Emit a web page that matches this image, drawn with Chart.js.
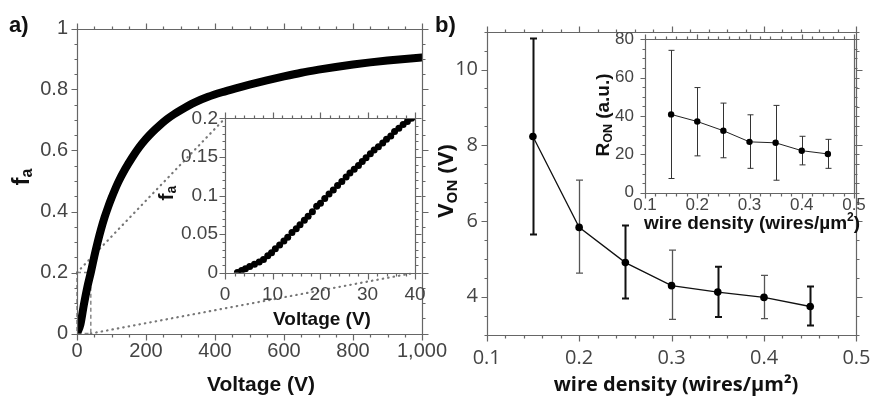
<!DOCTYPE html>
<html><head><meta charset="utf-8">
<script src="https://cdn.jsdelivr.net/npm/chart.js@4.4.1/dist/chart.umd.min.js"></script>
<style>
html,body{margin:0;padding:0;background:#fff;}
#wrap{position:relative;width:882px;height:397px;overflow:hidden;background:#fff;}
canvas{position:absolute;}
</style></head><body>
<div id="wrap">
<canvas id="cA" width="470" height="397" style="left:0px;top:0px"></canvas>
<canvas id="cB" width="452" height="397" style="left:430px;top:0px"></canvas>
<canvas id="cAin" width="290" height="240" style="left:150px;top:95px"></canvas>
<canvas id="cBin" width="302" height="222" style="left:580px;top:18px"></canvas>
</div>
<script>
// ---------- data (a) ----------
const aVoltage = [0,10,20,30,40,50,60,70,80,90,100,120,140,160,180,200,220,240,260,280,300,340,380,420,460,500,550,600,650,700,750,800,850,900,950,1000];
const aFa = [0,0.03,0.095,0.152,0.2,0.252,0.3,0.343,0.381,0.414,0.444,0.497,0.54,0.577,0.61,0.638,0.662,0.683,0.702,0.718,0.732,0.757,0.776,0.791,0.804,0.816,0.83,0.843,0.855,0.865,0.874,0.882,0.889,0.895,0.9,0.905];
const aXTicks = [0,200,400,600,800,1000];
const aXLabels = ['0','200','400','600','800','1,000'];
const aYTicks = [0,0.2,0.4,0.6,0.8,1];
const aYLabels = ['0','0.2','0.4','0.6','0.8','1'];

// inset (a)
const insetV = [2.6,3.5,4.3,5.2,6.2,7.2,8.1,9.0,9.8,10.6,11.5,12.4,13.2,14.1,15.0,15.8,16.7,17.5,18.4,19.3,20.1,21.0,21.9,22.8,23.7,24.6,25.5,26.3,27.2,28.1,28.9,29.7,30.6,31.4,32.3,33.2,34.0,34.9,35.7,36.6,37.5,38.4,39.3];
const insetFa = [0.0004,0.003,0.005,0.008,0.011,0.014,0.017,0.022,0.026,0.031,0.036,0.041,0.046,0.052,0.057,0.062,0.068,0.073,0.079,0.086,0.09,0.096,0.102,0.107,0.113,0.118,0.124,0.129,0.134,0.139,0.144,0.149,0.154,0.159,0.163,0.168,0.173,0.177,0.183,0.187,0.192,0.196,0.2];
const insetXTicks = [0,10,20,30,40];
const insetXLabels = ['0','10','20','30','40'];
const insetYTicks = [0,0.05,0.1,0.15,0.2];
const insetYLabels = ['0','0.05','0.1','0.15','0.2'];

// ---------- data (b) ----------
const bDensity = [0.15,0.2,0.25,0.3,0.35,0.4,0.45];
const bVon = [8.23,5.83,4.90,4.29,4.12,3.98,3.74];
const bVonLow = [5.64,4.62,3.95,3.40,3.46,3.42,3.24];
const bVonHigh = [10.82,7.08,5.88,5.23,4.79,4.56,4.27];
const bXTicks = [0.1,0.2,0.3,0.4,0.5];
const bXLabels = ['0.1','0.2','0.3','0.4','0.5'];
const bYTicks = [4,6,8,10];
const bYLabels = ['4','6','8','10'];

// inset (b)
const bRon = [40.8,37.1,32.3,26.5,26.0,21.9,20.2];
const bRonLow = [7.4,19.2,18.2,12.7,6.5,14.5,12.7];
const bRonHigh = [74.2,54.8,46.7,40.6,45.5,29.4,27.8];
const bInYTicks = [0,20,40,60,80];
const bInYLabels = ['0','20','40','60','80'];

// ---------- helpers ----------
function scaleCfg(min, max, ticks, labels, font, color, padding, fit, isX) {
  return {
    type: 'linear', min, max,
    grid: { display: false, drawTicks: false },
    border: { display: false },
    afterBuildTicks: s => { s.ticks = ticks.map(v => ({ value: v })); },
    afterFit: s => { if (isX) s.height = fit; else s.width = fit; },
    ticks: {
      autoSkip: false, maxRotation: 0, minRotation: 0, padding,
      font, color,
      callback: v => { const i = ticks.findIndex(t => Math.abs(t - v) < 1e-9); return i >= 0 ? labels[i] : ''; }
    }
  };
}

function frameTicks(cfg) {
  return { id: 'frameTicks', afterDraw(chart) {
    const { ctx, chartArea: ca, scales: { x, y } } = chart;
    ctx.save();
    ctx.strokeStyle = cfg.color; ctx.lineWidth = cfg.width;
    const L = Math.round(ca.left) + 0.5, R = Math.round(ca.right) + 0.5, T = Math.round(ca.top) + 0.5, B = Math.round(ca.bottom) + 0.5;
    ctx.beginPath();
    ctx.rect(L, T, R - L, B - T);
    const isMajor = (v, majors) => majors.some(m => Math.abs(m - v) < 1e-9);
    const n = Math.round((x.max - x.min) / cfg.xMinor);
    for (let i = 0; i <= n; i++) {
      const v = x.min + i * cfg.xMinor;
      const len = isMajor(v, cfg.xMajor) ? cfg.major : cfg.minor;
      const p = Math.round(x.getPixelForValue(v)) + 0.5;
      ctx.moveTo(p, B); ctx.lineTo(p, B + len);
      ctx.moveTo(p, T); ctx.lineTo(p, T - len);
    }
    const m = Math.round((y.max - y.min) / cfg.yMinor);
    for (let i = 0; i <= m; i++) {
      const v = y.min + i * cfg.yMinor;
      const len = isMajor(v, cfg.yMajor) ? cfg.major : cfg.minor;
      const p = Math.round(y.getPixelForValue(v)) + 0.5;
      ctx.moveTo(L, p); ctx.lineTo(L - len, p);
      ctx.moveTo(R, p); ctx.lineTo(R + len, p);
    }
    ctx.stroke();
    ctx.restore();
  }};
}

function titles(items) {
  return { id: 'titles', afterDraw(chart) {
    const ctx = chart.ctx;
    items.forEach(it => {
      ctx.save();
      ctx.translate(it.x, it.y);
      if (it.rot) ctx.rotate(it.rot);
      let w = 0;
      const ws = it.parts.map(p => { ctx.font = p.font; const mw = ctx.measureText(p.text).width; w += mw; return mw; });
      let cx = it.align === 'left' ? 0 : -w / 2;
      ctx.fillStyle = it.color || '#111';
      ctx.textBaseline = 'middle'; ctx.textAlign = 'left';
      it.parts.forEach((p, i) => { ctx.font = p.font; ctx.fillText(p.text, cx, p.dy || 0); cx += ws[i]; });
      ctx.restore();
    });
  }};
}

function errorBars(low, high, cfg) {
  return { id: 'errorBars', beforeDatasetsDraw(chart) {
    const { ctx, scales: { x, y } } = chart;
    const pts = chart.data.datasets[0].data;
    ctx.save();
    pts.forEach((pt, i) => {
      const px = Math.round(x.getPixelForValue(pt.x)) + 0.5;
      const yl = y.getPixelForValue(low[i]), yh = y.getPixelForValue(high[i]);
      ctx.strokeStyle = cfg.color(i); ctx.lineWidth = cfg.width(i);
      ctx.beginPath();
      ctx.moveTo(px, yl); ctx.lineTo(px, yh);
      ctx.moveTo(px - cfg.cap, yl); ctx.lineTo(px + cfg.cap, yl);
      ctx.moveTo(px - cfg.cap, yh); ctx.lineTo(px + cfg.cap, yh);
      ctx.stroke();
    });
    ctx.restore();
  }};
}

const whiteArea = { id: 'whiteArea', beforeDraw(chart) {
  const { ctx, chartArea: ca } = chart;
  ctx.save(); ctx.fillStyle = '#fff'; ctx.fillRect(ca.left, ca.top, ca.right - ca.left, ca.bottom - ca.top); ctx.restore();
}};

const LS = 'Liberation Sans, Arial, sans-serif';
const OS = 'Open Sans, Noto Sans, sans-serif';
const baseOpts = { responsive: false, animation: false, devicePixelRatio: 1, events: [],
  plugins: { legend: { display: false }, tooltip: { enabled: false } } };

// ---------- inset (a) ----------
const insetA = new Chart(document.getElementById('cAin'), {
  type: 'line',
  data: { datasets: [{ data: insetV.map((v, i) => ({ x: v, y: insetFa[i] })), showLine: false,
    pointRadius: 3.5, pointBackgroundColor: '#000', pointBorderWidth: 0 }] },
  options: Object.assign({}, baseOpts, {
    layout: { padding: { left: 0, right: 25, top: 23.3, bottom: 0 } },
    scales: {
      x: scaleCfg(0, 40, insetXTicks, insetXLabels, { family: LS, size: 19 }, '#444', 11, 62.3, true),
      y: scaleCfg(0, 0.2, insetYTicks, insetYLabels, { family: LS, size: 19 }, '#444', 7, 75, false)
    }
  }),
  plugins: [whiteArea,
    frameTicks({ color: '#666', width: 1.2, major: 6, minor: 3, xMinor: 2, xMajor: insetXTicks, yMinor: 0.01, yMajor: insetYTicks }),
    titles([
      { x: 172, y: 225, parts: [{ text: 'Voltage (V)', font: 'bold 19px ' + LS }] },
      { x: 17.5, y: 98, rot: -Math.PI / 2, parts: [{ text: 'f', font: 'bold 21px ' + LS }, { text: 'a', font: 'bold 14px ' + LS, dy: 5 }] }
    ])]
});

// ---------- main (a) ----------
const zoomLinks = { id: 'zoomLinks', beforeDatasetsDraw(chart) {
  const { ctx, scales: { x, y } } = chart;
  const ca = insetA.chartArea;
  const ox = insetA.canvas.offsetLeft - chart.canvas.offsetLeft;
  const oy = insetA.canvas.offsetTop - chart.canvas.offsetTop;
  const x0 = x.getPixelForValue(insetA.scales.x.min), x1 = x.getPixelForValue(insetA.scales.x.max);
  const y0 = y.getPixelForValue(insetA.scales.y.min), y1 = y.getPixelForValue(insetA.scales.y.max);
  ctx.save();
  ctx.strokeStyle = '#888'; ctx.lineWidth = 1.5; ctx.setLineDash([4, 3]);
  ctx.strokeRect(x0, y1, x1 - x0, y0 - y1);
  ctx.setLineDash([0.5, 5]); ctx.lineCap = 'round'; ctx.lineWidth = 2.2; ctx.strokeStyle = '#777';
  ctx.beginPath();
  ctx.moveTo(x0, y1); ctx.lineTo(ox + ca.left, oy + ca.top);
  ctx.moveTo(x1, y0); ctx.lineTo(ox + ca.right, oy + ca.bottom);
  ctx.stroke();
  ctx.restore();
}};

new Chart(document.getElementById('cA'), {
  type: 'line',
  data: { datasets: [{ data: aVoltage.map((v, i) => ({ x: v, y: aFa[i] })), borderColor: '#000', borderWidth: 8,
    borderCapStyle: 'round', borderJoinStyle: 'round', cubicInterpolationMode: 'monotone', pointRadius: 0, fill: false }] },
  options: Object.assign({}, baseOpts, {
    layout: { padding: { left: 0, right: 48, top: 28.5, bottom: 0 } },
    scales: {
      x: scaleCfg(0, 1000, aXTicks, aXLabels, { family: LS, size: 20 }, '#444', 6, 63.5, true),
      y: scaleCfg(0, 1, aYTicks, aYLabels, { family: LS, size: 20 }, '#444', 9, 77, false)
    }
  }),
  plugins: [zoomLinks,
    frameTicks({ color: '#666', width: 1.2, major: 6, minor: 3, xMinor: 50, xMajor: aXTicks, yMinor: 0.05, yMajor: aYTicks }),
    titles([
      { x: 261, y: 385, parts: [{ text: 'Voltage (V)', font: 'bold 21px ' + LS }] },
      { x: 22, y: 177, rot: -Math.PI / 2, parts: [{ text: 'f', font: 'bold 24px ' + LS }, { text: 'a', font: 'bold 16px ' + LS, dy: 6 }] },
      { x: 9, y: 26, align: 'left', parts: [{ text: 'a)', font: 'bold 22px ' + LS }] }
    ])]
});

// ---------- main (b) ----------
new Chart(document.getElementById('cB'), {
  type: 'line',
  data: { datasets: [{ data: bDensity.map((v, i) => ({ x: v, y: bVon[i] })), borderColor: '#111', borderWidth: 1.3,
    pointRadius: 3.8, pointBackgroundColor: '#000', pointBorderWidth: 0, fill: false }] },
  options: Object.assign({}, baseOpts, {
    layout: { padding: { left: 0, right: 15.3, top: 31.7, bottom: 0 } },
    scales: {
      x: scaleCfg(0.1, 0.5, bXTicks, bXLabels, { family: OS, size: 20 }, '#444', 11.5, 62.5, true),
      y: scaleCfg(3, 11, bYTicks, bYLabels, { family: OS, size: 20 }, '#444', 8.7, 56.7, false)
    }
  }),
  plugins: [
    errorBars(bVonLow, bVonHigh, { cap: 3.5, color: i => i % 2 === 0 ? '#111' : '#555', width: i => i % 2 === 0 ? 2 : 1.3 }),
    frameTicks({ color: '#666', width: 1.2, major: 6, minor: 3, xMinor: 0.02, xMajor: bXTicks, yMinor: 0.5, yMajor: bYTicks }),
    titles([
      { x: 246, y: 385, parts: [{ text: 'wire density (wires/\u00b5m\u00b2)', font: 'bold 20px ' + OS }] },
      { x: 17, y: 181, rot: -Math.PI / 2, parts: [{ text: 'V', font: 'bold 22px ' + OS }, { text: 'ON', font: 'bold 15px ' + OS, dy: 6 }, { text: ' (V)', font: 'bold 22px ' + OS }] },
      { x: 5, y: 26, align: 'left', parts: [{ text: 'b)', font: 'bold 22px ' + LS }] }
    ])]
});

// ---------- inset (b) ----------
new Chart(document.getElementById('cBin'), {
  type: 'line',
  data: { datasets: [{ data: bDensity.map((v, i) => ({ x: v, y: bRon[i] })), borderColor: '#222', borderWidth: 1,
    pointRadius: 3.2, pointBackgroundColor: '#000', pointBorderWidth: 0, fill: false }] },
  options: Object.assign({}, baseOpts, {
    layout: { padding: { left: 0, right: 28, top: 18.7, bottom: 0 } },
    scales: {
      x: scaleCfg(0.1, 0.5, bXTicks, bXLabels, { family: LS, size: 17 }, '#444', 2, 47.3, true),
      y: scaleCfg(0, 80, bInYTicks, bInYLabels, { family: LS, size: 17 }, '#444', 11, 65, false)
    }
  }),
  plugins: [whiteArea,
    errorBars(bRonLow, bRonHigh, { cap: 3, color: () => '#333', width: () => 1 }),
    frameTicks({ color: '#666', width: 1.2, major: 5, minor: 3, xMinor: 0.02, xMajor: bXTicks, yMinor: 5, yMajor: bInYTicks }),
    titles([
      { x: 172, y: 206, parts: [{ text: 'wire density (wires/\u00b5m', font: 'bold 19px ' + LS }, { text: '2', font: 'bold 12px ' + LS, dy: -6 }, { text: ')', font: 'bold 19px ' + LS }] },
      { x: 24, y: 97, rot: -Math.PI / 2, parts: [{ text: 'R', font: 'bold 19px ' + LS }, { text: 'ON', font: 'bold 12.5px ' + LS, dy: 5 }, { text: ' (a.u.)', font: 'bold 19px ' + LS }] }
    ])]
});
</script>
</body></html>
